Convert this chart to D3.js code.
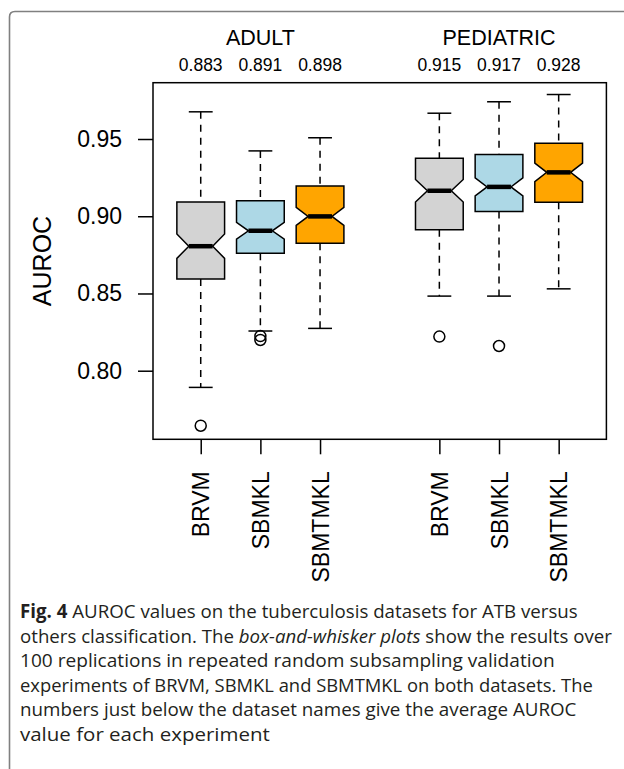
<!DOCTYPE html>
<html>
<head>
<meta charset="utf-8">
<script src="https://cdn.jsdelivr.net/npm/d3@7"></script>
<style>
  html, body { margin: 0; padding: 0; background: #fff; }
  svg { display: block; }
</style>
</head>
<body>
<svg id="fig" width="624" height="769"></svg>
<script>
// Datasets and methods
const datasets = ["ADULT", "PEDIATRIC"];
const methods = ["BRVM", "SBMKL", "SBMTMKL"];
const fills = ["#d3d3d3", "#add8e6", "#ffa500"];

// Average AUROC per experiment (dataset-major order)
const meanAuroc = ["0.883", "0.891", "0.898", "0.915", "0.917", "0.928"];

// Box statistics over 100 replications, dataset-major order
const whiskerLow  = [0.7892, 0.8257, 0.8274, 0.8483, 0.8483, 0.8530];
const quartile1   = [0.8594, 0.8760, 0.8825, 0.8913, 0.9031, 0.9090];
const medians     = [0.8806, 0.8906, 0.8999, 0.9165, 0.9190, 0.9284];
const quartile3   = [0.9092, 0.9100, 0.9195, 0.9375, 0.9399, 0.9473];
const whiskerHigh = [0.9676, 0.9423, 0.9508, 0.9667, 0.9741, 0.9788];
const outliers    = [[0.7644], [0.8224, 0.8199], [], [0.8221], [0.8160], []];
const nReplications = 100;

const yTicks = [0.80, 0.85, 0.90, 0.95];

const captionLines = [
  [["Fig. 4", "bold"], [" AUROC values on the tuberculosis datasets for ATB versus", "normal"]],
  [["others classification. The ", "normal"], ["box-and-whisker plots", "italic"], [" show the results over", "normal"]],
  [["100 replications in repeated random subsampling validation", "normal"]],
  [["experiments of BRVM, SBMKL and SBMTMKL on both datasets. The", "normal"]],
  [["numbers just below the dataset names give the average AUROC", "normal"]],
  [["value for each experiment", "normal"]]
];
const captionWidths = [558, 592, 535, 573, 557, 250];

const svg = d3.select("#fig");
const font = "'Liberation Sans', Arial, Helvetica, sans-serif";

// Rounded figure frame, open to the right and bottom
svg.append("path")
  .attr("d", "M9.5,769 L9.5,17 Q9.5,11.5 15,11.5 L624,11.5")
  .attr("fill", "none")
  .attr("stroke", "#808080")
  .attr("stroke-width", 1.6);

// Experiment records with slot index (gap between the two datasets)
const records = [];
datasets.forEach((ds, gi) => {
  methods.forEach((m, mi) => {
    const k = gi * methods.length + mi;
    records.push({
      dataset: ds, method: m, slot: gi * (methods.length + 1) + mi + 1,
      fill: fills[mi], mean: meanAuroc[k],
      lo: whiskerLow[k], q1: quartile1[k], med: medians[k],
      q3: quartile3[k], hi: whiskerHigh[k], out: outliers[k]
    });
  });
});

const plot = { left: 153, right: 606.4, top: 82.7, bottom: 439.3 };
const x = d3.scaleLinear().domain([0.2, 7.8]).range([plot.left, plot.right]);
const y = d3.scaleLinear().domain([0.7556, 0.98645]).range([plot.bottom, plot.top]);

const boxW = x(0.4) - x(0);      // half box width in px (box = 0.8 slot)
const capW = boxW / 2;

// Y axis
const yAxis = svg.append("g")
  .attr("transform", `translate(${plot.left},0)`)
  .call(d3.axisLeft(y).tickValues(yTicks).tickFormat(d3.format(".2f")).tickSize(15).tickPadding(16));
yAxis.select(".domain").remove();
yAxis.selectAll("line").attr("stroke", "#000").attr("stroke-width", 1.5);
yAxis.selectAll("text").attr("font-family", font).attr("font-size", 23).attr("fill", "#000");

// X axis with rotated method labels
const xAxis = svg.append("g")
  .attr("transform", `translate(0,${plot.bottom})`)
  .call(d3.axisBottom(x).tickValues(records.map(r => r.slot))
    .tickFormat((d, i) => records[i].method).tickSize(15));
xAxis.select(".domain").remove();
xAxis.selectAll("line").attr("stroke", "#000").attr("stroke-width", 1.5);
xAxis.selectAll("text")
  .attr("font-family", font).attr("font-size", 23).attr("fill", "#000")
  .attr("transform", "rotate(-90)")
  .attr("text-anchor", "end")
  .attr("x", -32).attr("y", 0).attr("dy", "0.35em");

// Axis title
svg.append("text")
  .attr("transform", `translate(51,${(plot.top + plot.bottom) / 2}) rotate(-90)`)
  .attr("text-anchor", "middle")
  .attr("font-family", font).attr("font-size", 25)
  .text("AUROC");

// Dataset titles and mean values
datasets.forEach((ds, gi) => {
  svg.append("text")
    .attr("x", x(gi * (methods.length + 1) + 2)).attr("y", 45)
    .attr("text-anchor", "middle")
    .attr("font-family", font).attr("font-size", 21.5)
    .text(ds);
});
svg.selectAll("text.mean").data(records).join("text")
  .attr("class", "mean")
  .attr("x", d => x(d.slot)).attr("y", 71)
  .attr("text-anchor", "middle")
  .attr("font-family", font).attr("font-size", 17.5)
  .text(d => d.mean);

// Boxes
const g = svg.selectAll("g.box").data(records).join("g").attr("class", "box");

// Whiskers (dashed)
g.append("line")
  .attr("x1", d => x(d.slot)).attr("x2", d => x(d.slot))
  .attr("y1", d => y(d.hi)).attr("y2", d => y(d.q3))
  .attr("stroke", "#000").attr("stroke-width", 1.5).attr("stroke-dasharray", "7,6");
g.append("line")
  .attr("x1", d => x(d.slot)).attr("x2", d => x(d.slot))
  .attr("y1", d => y(d.q1)).attr("y2", d => y(d.lo))
  .attr("stroke", "#000").attr("stroke-width", 1.5).attr("stroke-dasharray", "7,6");
// Whisker caps
["hi", "lo"].forEach(key => {
  g.append("line")
    .attr("x1", d => x(d.slot) - capW).attr("x2", d => x(d.slot) + capW)
    .attr("y1", d => y(d[key])).attr("y2", d => y(d[key]))
    .attr("stroke", "#000").attr("stroke-width", 1.5);
});

// Notched box outline
g.append("path")
  .attr("d", d => {
    const cx = x(d.slot);
    const notch = 1.58 * (d.q3 - d.q1) / Math.sqrt(nReplications);
    const yT = y(d.q3), yB = y(d.q1), yM = y(d.med);
    const nT = y(d.med + notch), nB = y(d.med - notch);
    const L = cx - boxW, R = cx + boxW, l = cx - boxW / 2, r = cx + boxW / 2;
    return `M${L},${yT}L${R},${yT}L${R},${nT}L${r},${yM}L${R},${nB}L${R},${yB}` +
           `L${L},${yB}L${L},${nB}L${l},${yM}L${L},${nT}Z`;
  })
  .attr("fill", d => d.fill)
  .attr("stroke", "#000").attr("stroke-width", 1.5).attr("stroke-linejoin", "miter");

// Median bar
g.append("line")
  .attr("x1", d => x(d.slot) - boxW / 2).attr("x2", d => x(d.slot) + boxW / 2)
  .attr("y1", d => y(d.med)).attr("y2", d => y(d.med))
  .attr("stroke", "#000").attr("stroke-width", 4.5);

// Outliers
g.selectAll("circle").data(d => d.out.map(v => ({ slot: d.slot, v }))).join("circle")
  .attr("cx", d => x(d.slot)).attr("cy", d => y(d.v)).attr("r", 5.5)
  .attr("fill", "none").attr("stroke", "#000").attr("stroke-width", 1.5);

// Plot frame
svg.append("rect")
  .attr("x", plot.left).attr("y", plot.top)
  .attr("width", plot.right - plot.left).attr("height", plot.bottom - plot.top)
  .attr("fill", "none").attr("stroke", "#000").attr("stroke-width", 1.5);

// Caption: each line is set at its natural width, then condensed horizontally
const capFont = "'Open Sans', 'Noto Sans', sans-serif";
captionLines.forEach((parts, i) => {
  const t = svg.append("text")
    .attr("x", 0).attr("y", 0)
    .attr("font-family", capFont).attr("font-size", 19)
    .attr("fill", "#231f20");
  parts.forEach(([s, style]) => {
    const ts = t.append("tspan").text(s);
    if (style === "bold") ts.attr("font-weight", "bold");
    if (style === "italic") ts.attr("font-style", "italic");
  });
  const w = t.node().getComputedTextLength();
  t.attr("transform", `translate(20,${618 + i * 24.5}) scale(${captionWidths[i] / w},1)`);
});
</script>
</body>
</html>
